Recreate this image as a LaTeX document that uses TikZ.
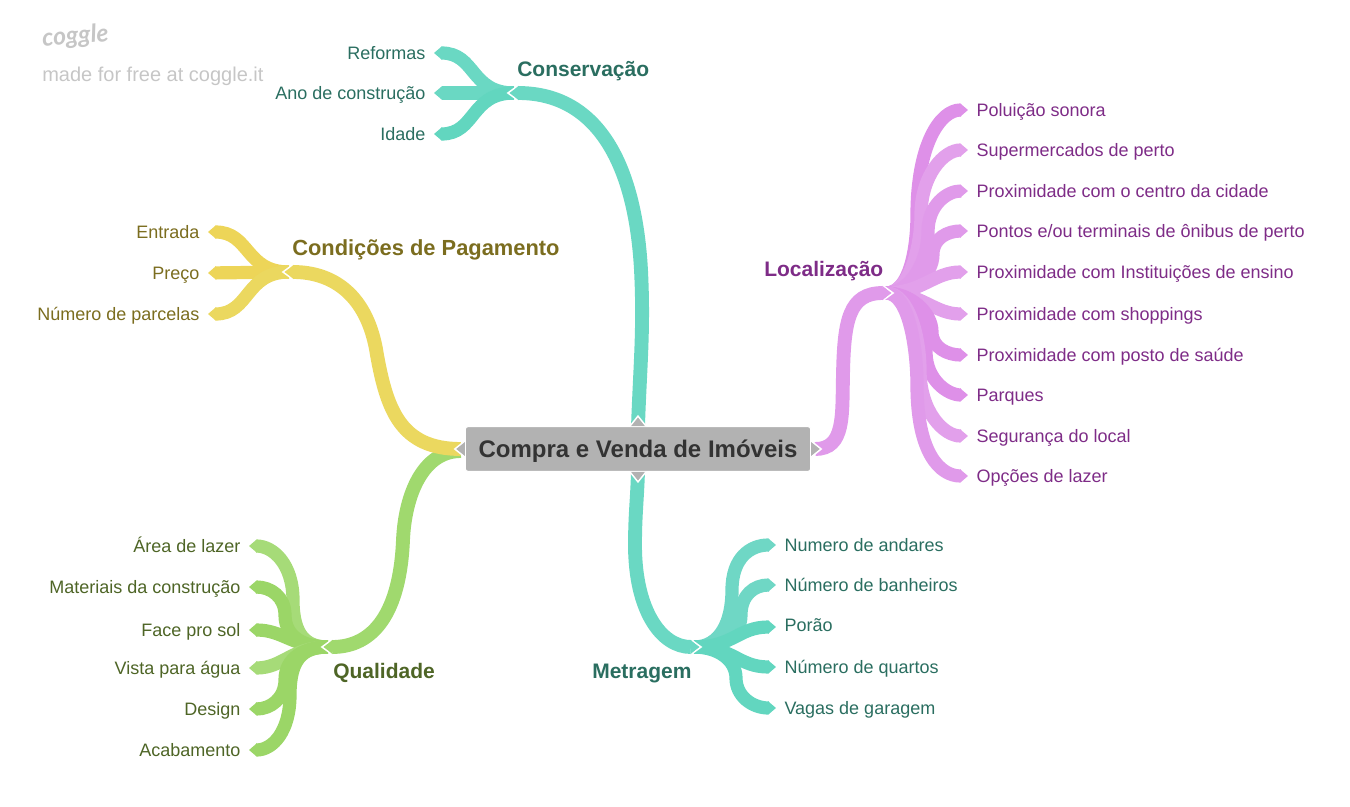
\documentclass[tikz,border=0pt]{standalone}
\usepackage{fontspec}
\setmainfont{Liberation Sans}
\newfontfamily\logofont{Lato Italic}
\usepackage{xcolor}
\usetikzlibrary{arrows.meta,positioning,calc,backgrounds}
\definecolor{ce}{HTML}{6AD8C3}
\definecolor{cf}{HTML}{62D6BF}
\definecolor{cg}{HTML}{6FD7C5}
\definecolor{ye}{HTML}{EBD85F}
\definecolor{yf}{HTML}{EDD558}
\definecolor{pi}{HTML}{E09AEA}
\definecolor{pj}{HTML}{DE90E8}
\definecolor{pk}{HTML}{E2A0EB}
\definecolor{gr}{HTML}{A0D96E}
\definecolor{gs}{HTML}{9BD667}
\definecolor{gt}{HTML}{A6DB78}
\definecolor{tc}{HTML}{2A6E60}
\definecolor{ty}{HTML}{7B6D1F}
\definecolor{tp}{HTML}{7E2C87}
\definecolor{tg}{HTML}{4E6526}
\definecolor{rt}{HTML}{B2B2B2}
\definecolor{lg}{HTML}{C6C6C6}
\tikzset{
  twig/.style={line width=9.9pt, -{Triangle[length=6pt,width=9.9pt]}},
  bough/.style={line width=10.4pt, -{Triangle[length=6.5pt,width=10.4pt]}},
  notch/.style={draw=white, line width=1.2pt},
  leaf/.style={inner xsep=6.2pt, inner ysep=0pt, text height=13pt, text depth=3pt, font=\fontsize{13.5}{16}\selectfont},
  topic/.style={anchor=west, inner sep=0pt, font=\fontsize{15.75}{18}\selectfont\bfseries},
  tipbit/.style={fill=rt, draw=white, line width=1.1pt}
}
\newcommand{\Notch}[2]{\draw[notch] ($(#1)+(#2*-9,-8)$) -- ($(#1)+(#2*2,0)$) -- ($(#1)+(#2*-9,8)$);}

\begin{document}
\begin{tikzpicture}[x=.75pt,y=-.75pt]
  \useasboundingbox (0,0) rectangle (1350,807);
  % logo
  \node[anchor=west, inner sep=0pt, text=lg, rotate=5, font=\fontsize{18.5}{20}\logofont\bfseries] (logo) at (42,40) {coggle};
  \node[anchor=west, inner sep=0pt, text=lg, font=\fontsize{15}{18}\selectfont] (made) at (42,76) {made for free at coggle.it};
  % centre
  \node[fill=rt, draw=white, line width=.8pt, rounded corners=2pt, minimum width=259pt, minimum height=33.6pt, inner sep=0pt,
    text height=16pt, text depth=3.6pt, text=black!80, font=\fontsize{18}{20}\selectfont\bfseries] (root) at (638,449) {Compra e Venda de Imóveis};
  % topics
  \node[topic, text=tc] (cons) at (517,71) {Conservação};
  \node[topic, text=ty, font=\fontsize{16.4}{18}\selectfont\bfseries] (cond) at (292,250) {Condições de Pagamento};
  \node[topic, text=tp] (loca) at (764,271) {Localização};
  \node[topic, text=tg] (qual) at (333,673) {Qualidade};
  \node[topic, text=tc] (metr) at (592,673) {Metragem};
  % leaves
  \foreach \n/\t/\y in {c1/Reformas/53, c2/Ano de construção/93, c3/Idade/134}
    \node[leaf, anchor=east, text=tc] (\n) at (434,\y) {\t};
  \foreach \n/\t/\y in {y1/Entrada/232, y2/Preço/273, y3/Número de parcelas/314}
    \node[leaf, anchor=east, text=ty] (\n) at (208,\y) {\t};
  \foreach \n/\t/\y in {g1/Área de lazer/546, g2/Materiais da construção/587, g3/Face pro sol/630,
      g4/Vista para água/668, g5/Design/709, g6/Acabamento/750}
    \node[leaf, anchor=east, text=tg] (\n) at (249,\y) {\t};
  \foreach \n/\t/\y in {p1/Poluição sonora/110, p2/Supermercados de perto/150, p3/Proximidade com o centro da cidade/191,
      p4/{Pontos e/ou terminais de ônibus de perto}/231, p5/Proximidade com Instituições de ensino/272,
      p6/Proximidade com shoppings/314, p7/Proximidade com posto de saúde/355, p8/Parques/395,
      p9/Segurança do local/436, p10/Opções de lazer/476}
    \node[leaf, anchor=west, text=tp] (\n) at (968,\y) {\t};
  \foreach \n/\t/\y in {m1/Numero de andares/545, m2/Número de banheiros/585, m3/Porão/625,
      m4/Número de quartos/667, m5/Vagas de garagem/708}
    \node[leaf, anchor=west, text=tc] (\n) at (776,\y) {\t};
  % hubs
  \coordinate (hc) at (514,93);  \coordinate (tc) at (510,93);
  \coordinate (hy) at (289,272); \coordinate (ty) at (285,272);
  \coordinate (hg) at (328,647); \coordinate (tg) at (324,647);
  \coordinate (hp) at (886,293); \coordinate (tp) at (891,293);
  \coordinate (hm) at (694,647); \coordinate (tm) at (699,647);

  \begin{scope}[on background layer]
    % conservacao
    \draw[twig,ce] (hc) .. controls +(-44,0) and +(42,0) .. (c1.east);
    \draw[twig,ce] (hc) -- (c2.east);
    \draw[twig,cf] (hc) .. controls +(-44,0) and +(42,0) .. (c3.east);
    \Notch{tc}{-1}
    \draw[bough,ce] (root.north) .. controls +(2,-60) and +(3,60) .. (641,270)
      .. controls +(-6,-110) and +(85,0) .. (tc);
    % pagamento
    \draw[twig,yf] (hy) .. controls +(-44,0) and +(42,0) .. (y1.east);
    \draw[twig,yf] (hy) -- (y2.east);
    \draw[twig,ye] (hy) .. controls +(-44,0) and +(42,0) .. (y3.east);
    \Notch{ty}{-1}
    % qualidade
    \draw[twig,gt] (hg) .. controls +(-22,0) and +(0,35) .. (293,600) .. controls +(0,-36) and +(24,0) .. (g1.east);
    \draw[twig,gs] (hg) .. controls +(-24,0) and +(0,22) .. (285,615) .. controls +(0,-18) and +(22,0) .. (g2.east);
    \draw[twig,gs] (hg) .. controls +(-36,0) and +(34,0) .. (g3.east);
    \draw[twig,gt] (hg) .. controls +(-36,0) and +(34,0) .. (g4.east);
    \draw[twig,gs] (hg) .. controls +(-24,0) and +(0,-22) .. (285,680) .. controls +(0,18) and +(22,0) .. (g5.east);
    \draw[twig,gs] (hg) .. controls +(-26,0) and +(0,-35) .. (290,695) .. controls +(0,36) and +(24,0) .. (g6.east);
    \Notch{tg}{-1}
    \draw[bough,gr] ($(root.west)+(-4,2)$) .. controls +(-38,0) and +(2,-45) .. (403,540)
      .. controls +(-3,72) and +(50,0) .. (tg);
    \draw[bough,ye] ($(root.west)+(-4,0)$) .. controls +(-60,0) and +(10,55) .. (377,355)
      .. controls +(-9,-60) and +(48,0) .. (ty);
    % localizacao
    \draw[twig,pj] (hp) .. controls +(24,0) and +(0,32) .. (917,215) .. controls +(0,-70) and +(-28,0) .. (p1.west);
    \draw[twig,pk] (hp) .. controls +(24,0) and +(0,30) .. (921,215) .. controls +(0,-40) and +(-24,0) .. (p2.west);
    \draw[twig,pi] (hp) .. controls +(24,0) and +(0,30) .. (928,232) .. controls +(0,-28) and +(-20,0) .. (p3.west);
    \draw[twig,pi] (hp) .. controls +(24,0) and +(0,22) .. (933,254) .. controls +(0,-16) and +(-20,0) .. (p4.west);
    \draw[twig,pk] (hp) .. controls +(36,0) and +(-34,0) .. (p5.west);
    \draw[twig,pk] (hp) .. controls +(36,0) and +(-34,0) .. (p6.west);
    \draw[twig,pj] (hp) .. controls +(24,0) and +(0,-20) .. (932,332) .. controls +(0,16) and +(-20,0) .. (p7.west);
    \draw[twig,pj] (hp) .. controls +(24,0) and +(0,-30) .. (926,352) .. controls +(0,28) and +(-20,0) .. (p8.west);
    \draw[twig,pk] (hp) .. controls +(24,0) and +(0,-30) .. (920,370) .. controls +(0,42) and +(-24,0) .. (p9.west);
    \draw[twig,pi] (hp) .. controls +(24,0) and +(0,-32) .. (917,385) .. controls +(0,68) and +(-28,0) .. (p10.west);
    \Notch{tp}{1}
    \draw[bough,pi] ($(root.east)+(4,0)$) .. controls +(30,0) and +(-1,40) .. (843,375)
      .. controls +(1,-55) and +(-42,0) .. (tp);
    % metragem
    \draw[twig,cg] (hm) .. controls +(26,0) and +(0,32) .. (732,590) .. controls +(0,-32) and +(-26,0) .. (m1.west);
    \draw[twig,cg] (hm) .. controls +(26,0) and +(0,22) .. (741,615) .. controls +(0,-20) and +(-22,0) .. (m2.west);
    \draw[twig,cf] (hm) .. controls +(40,0) and +(-38,0) .. ($(m3.west)+(0,2)$);
    \draw[twig,cf] (hm) .. controls +(40,0) and +(-38,0) .. (m4.west);
    \draw[twig,cf] (hm) .. controls +(24,0) and +(0,-18) .. (736,678) .. controls +(0,18) and +(-24,0) .. (m5.west);
    \Notch{tm}{1}
    \draw[bough,ce] (root.south) .. controls +(-1,30) and +(0,-30) .. (635,545)
      .. controls +(0,65) and +(-38,0) .. (tm);
  \end{scope}

  % tips of the centre box
  \path[tipbit] ($(root.north)+(-8,0)$) -- ($(root.north)+(0,-10)$) -- ($(root.north)+(8,0)$);
  \path[tipbit] ($(root.south)+(-8,0)$) -- ($(root.south)+(0,10)$) -- ($(root.south)+(8,0)$);
  \path[tipbit] ($(root.west)+(0,-8)$) -- ($(root.west)+(-10,0)$) -- ($(root.west)+(0,8)$);
  \path[tipbit] ($(root.east)+(0,-8)$) -- ($(root.east)+(10,0)$) -- ($(root.east)+(0,8)$);
\end{tikzpicture}
\end{document}
